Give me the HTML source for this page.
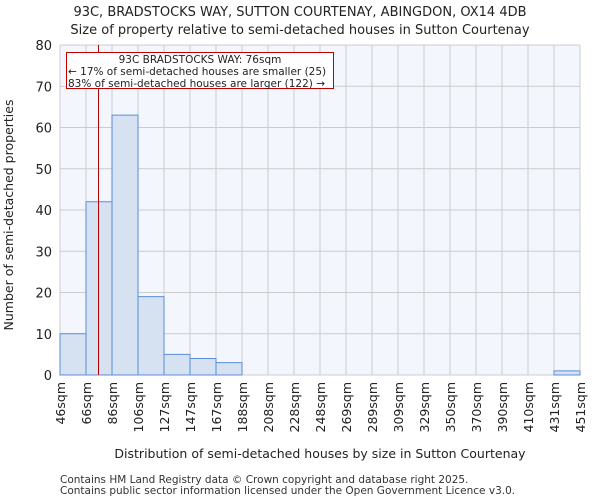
<!DOCTYPE html>
<html><head><meta charset="utf-8"><style>
body{margin:0;background:#fff;font-family:"DejaVu Sans","Liberation Sans",sans-serif}
svg text{font-family:"DejaVu Sans","Liberation Sans",sans-serif}
</style></head><body>
<svg id="chart" width="600" height="500">
<text x="300" y="16" text-anchor="middle" font-size="13" fill="#222">93C, BRADSTOCKS WAY, SUTTON COURTENAY, ABINGDON, OX14 4DB</text>
<text x="300" y="34" text-anchor="middle" font-size="13" fill="#222">Size of property relative to semi-detached houses in Sutton Courtenay</text>
<rect x="60" y="45" width="520" height="330" fill="#f3f6fd"/>
<g id="grid"></g><g id="bars"></g><g id="axes"></g>
<text transform="translate(13,215) rotate(-90)" text-anchor="middle" font-size="12.5" fill="#222">Number of semi-detached properties</text>
<text x="320" y="458" text-anchor="middle" font-size="12.5" fill="#222">Distribution of semi-detached houses by size in Sutton Courtenay</text>
<text x="60" y="483" font-size="10.5" fill="#333">Contains HM Land Registry data © Crown copyright and database right 2025.</text>
<text x="60" y="494" font-size="10.5" fill="#333">Contains public sector information licensed under the Open Government Licence v3.0.</text>
</svg>
<script>
const categories=["46sqm","66sqm","86sqm","106sqm","127sqm","147sqm","167sqm","188sqm","208sqm","228sqm","248sqm","269sqm","289sqm","309sqm","329sqm","350sqm","370sqm","390sqm","410sqm","431sqm","451sqm"];
const counts=[10,42,63,19,5,4,3,0,0,0,0,0,0,0,0,0,0,0,0,1];
const yTicks=[0,10,20,30,40,50,60,70,80];
const binStart=46, binWidth=20.25, subjectSize=76;
const annotationLines=["93C BRADSTOCKS WAY: 76sqm","← 17% of semi-detached houses are smaller (25)","83% of semi-detached houses are larger (122) →"];
const NS="http://www.w3.org/2000/svg";
const X0=60,X1=580,Y0=375,Y1=45,nb=counts.length;
const xb=i=>X0+i*(X1-X0)/nb;
const xv=v=>X0+(v-binStart)/binWidth*(X1-X0)/nb;
const y=v=>Y0-v/80*(Y0-Y1);
function mk(t,a,p){const e=document.createElementNS(NS,t);for(const k in a)e.setAttribute(k,a[k]);p.appendChild(e);return e;}
const grid=document.getElementById('grid'),bars=document.getElementById('bars'),axes=document.getElementById('axes');
for(let i=0;i<=nb;i++){const l=mk('line',{x1:xb(i),x2:xb(i),y1:Y1,y2:Y0,stroke:'#cccccc','stroke-width':1},grid);

}
yTicks.forEach(t=>{const l=mk('line',{x1:X0,x2:X1,y1:y(t),y2:y(t),stroke:'#cccccc','stroke-width':1},grid);


const tx=mk('text',{x:X0-8,y:y(t)+5,'text-anchor':'end','font-size':13,fill:'#222'},axes);tx.textContent=t;

});
counts.forEach((c,i)=>{if(c<=0)return;const r=mk('rect',{x:xb(i),y:y(c),width:xb(i+1)-xb(i),height:Y0-y(c),fill:'#d6e1f2',stroke:'#5b8fd6','stroke-width':1},bars);

});
categories.forEach((c,i)=>{const tx=mk('text',{transform:`translate(${xb(i)+5},382) rotate(-90)`,'text-anchor':'end','font-size':12.5,fill:'#222'},axes);tx.textContent=c;

});
const sx=xv(subjectSize);
const ml=mk('line',{x1:sx,x2:sx,y1:Y1,y2:Y0,stroke:'#b00000','stroke-width':1},axes);


const box=mk('rect',{x:66.5,y:52.5,width:267,height:36,fill:'#fff',stroke:'#c00000','stroke-width':1},axes);


annotationLines.forEach((s,i)=>{const tx=mk('text',{x:i==0?200:68,y:63+i*12,'text-anchor':i==0?'middle':'start','font-size':10.5,fill:'#222'},axes);tx.textContent=s;

});
</script>
</body></html>
